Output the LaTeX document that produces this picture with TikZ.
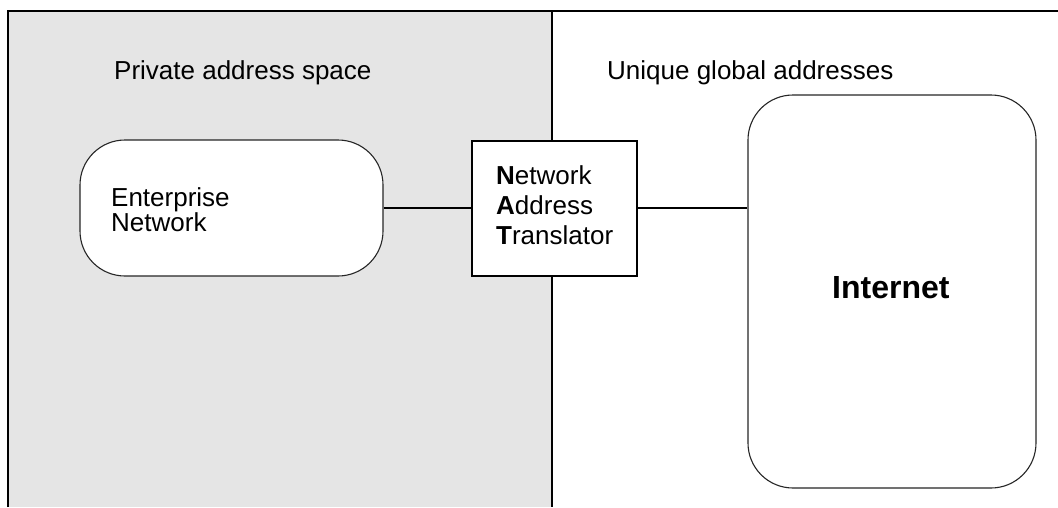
\documentclass[tikz,border=0pt]{standalone}
\usepackage{fontspec}
\setmainfont{Liberation Sans}
\begin{document}
\begin{tikzpicture}[x=1pt,y=-1pt,
  frame/.style={line width=1.6pt,black},
  cloudbox/.style={draw=black!85,line width=1.1pt,fill=white,rounded corners=45pt,inner sep=0pt},
  natbox/.style={draw=black,line width=1.5pt,fill=white,inner sep=0pt},
  lbl/.style={anchor=base west,inner sep=0pt,font=\fontsize{26}{30}\selectfont},
  link/.style={line width=1.1pt,black}
]
\useasboundingbox (0,0) rectangle (1058,507);
\fill[fill=black!10] (8,11) rectangle (552,507);
% boxes
\node[cloudbox,minimum width=303pt,minimum height=136pt] (ent) at (231.5,208) {};
\node[natbox,minimum width=165pt,minimum height=135pt] (nat) at (554.5,208.5) {};
\node[cloudbox,minimum width=288pt,minimum height=393pt] (inet) at (892,291.5) {};
% frame
\coordinate (tl) at (8,11);
\coordinate (tr) at (1058,11);
\coordinate (bl) at (8,507);
\coordinate (dtop) at (552,11);
\coordinate (dbot) at (552,507);
\draw[frame] (bl) -- (tl) -- (tr);
\draw[frame] (dtop) -- (dtop |- nat.north);
\draw[frame] (dtop |- nat.south) -- (dbot);
\node[natbox,minimum width=165pt,minimum height=135pt] at (nat) {};
% labels
\node[lbl] (priv) at (114,79) {Private address space};
\node[lbl] (glob) at (607,79) {Unique global addresses};
\node[lbl,font=\fontsize{26}{25}\selectfont,align=left,anchor=base west] (entl) at (111,231) {Enterprise\\Network};
\node[lbl] (n1) at (496,184) {\textbf{N}etwork};
\node[lbl] (n2) at (496,214) {\textbf{A}ddress};
\node[lbl] (n3) at (496,244) {\textbf{T}ranslator};
\node[lbl,font=\fontsize{32}{36}\selectfont\bfseries] (inetl) at (832,298) {Internet};
% connectors
\draw[link] (ent.east) -- (ent.east -| nat.west);
\draw[link] (ent.east -| nat.east) -- (ent.east -| inet.west);
\end{tikzpicture}
\end{document}
